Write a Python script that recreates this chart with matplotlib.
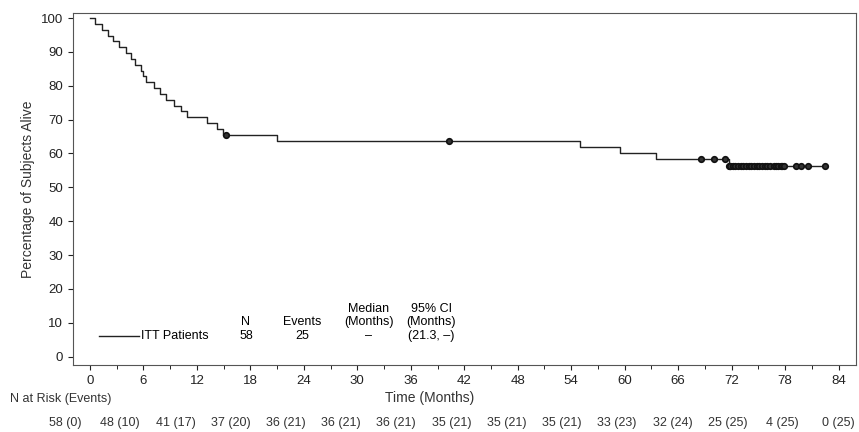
import numpy as np
import matplotlib
matplotlib.use("Agg")
import matplotlib.pyplot as plt
from matplotlib.ticker import MultipleLocator

plt.rcParams['font.family'] = ['Liberation Sans', 'DejaVu Sans']

N_TOTAL = 58
event_times = [0.6, 1.3, 2.0, 2.6, 3.3, 4.0, 4.6, 5.0, 5.7, 5.9,
               6.3, 7.2, 7.9, 8.5, 9.4, 10.2, 10.9,
               13.1, 14.2, 14.9, 21.0, 55.0, 59.5, 63.5, 71.7]
censor_times = [15.3, 40.3, 68.6, 70.0, 71.3, 71.75, 71.8, 71.85,
                72.1, 72.4, 72.7, 73.0, 73.3, 73.6, 73.9, 74.2, 74.5, 74.8,
                75.1, 75.4, 75.7, 76.0, 76.3, 76.7, 77.0, 77.2, 77.5, 77.7, 77.9,
                79.2, 79.8, 80.6, 82.5]
risk_labels = ["58 (0)", "48 (10)", "41 (17)", "37 (20)", "36 (21)", "36 (21)", "36 (21)",
               "35 (21)", "35 (21)", "35 (21)", "33 (23)", "32 (24)", "25 (25)", "4 (25)", "0 (25)"]

# Kaplan-Meier
times = sorted([(t, 1) for t in event_times] + [(t, 0) for t in censor_times])
at_risk = N_TOTAL
s = 100.0
xs, ys = [0], [100.0]
cx, cy = [], []
for t, e in times:
    if e:
        xs.append(t); ys.append(s)
        s = s * (at_risk - 1) / at_risk
        xs.append(t); ys.append(s)
    else:
        cx.append(t); cy.append(s)
    at_risk -= 1
xs.append(max(censor_times)); ys.append(s)

fig = plt.figure(figsize=(8.59, 4.32), dpi=100)
ax = fig.add_axes([0.085, 0.155, 0.912, 0.815])
ax.plot(xs, ys, color='#222222', lw=1.0)
ax.plot(cx, cy, 'o', ms=4, mfc='#333333', mec='#111111', mew=1.2)

ax.set_xlim(-1.9, 86)
ax.set_ylim(-2.5, 101.5)
ax.xaxis.set_major_locator(MultipleLocator(6))
ax.xaxis.set_minor_locator(MultipleLocator(3))
ax.yaxis.set_major_locator(MultipleLocator(10))
ax.tick_params(labelsize=9.5, colors='#222222')
ax.tick_params(which='minor', length=3)
for sp in ax.spines.values():
    sp.set_color('#555555')
ax.set_ylabel("Percentage of Subjects Alive", fontsize=10, color='#333333')

# inline legend table
ax.plot([1, 5.5], [6, 6], color='#222222', lw=1.0)
ax.text(5.7, 6, "ITT Patients", fontsize=9, va='center')
cols = [(17.5, "N", "58"), (23.8, "Events", "25"), (31.3, "Median\n(Months)", "\u2013"),
        (38.3, "95% CI\n(Months)", "(21.3, \u2013)")]
for x, h, v in cols:
    ax.text(x, 8.3, h, fontsize=9, ha='center', va='bottom', linespacing=1.2)
    ax.text(x, 6, v, fontsize=9, ha='center', va='center')

fig.text(0.5, 0.07, "Time (Months)", fontsize=10, ha='center', color='#333333')
fig.text(0.012, 0.07, "N at Risk (Events)", fontsize=9, ha='left', color='#333333')
n = len(risk_labels)
for i, lab in enumerate(risk_labels):
    px = 65 + i * (838 - 65) / (n - 1)
    fig.text(px / 859, 0.015, lab, fontsize=9, ha='center', color='#333333')

fig.savefig("out.png", dpi=100)
